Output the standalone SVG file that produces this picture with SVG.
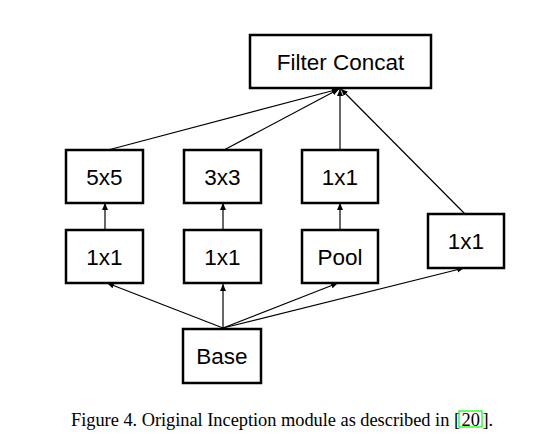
<svg xmlns="http://www.w3.org/2000/svg" width="535" height="447" viewBox="0 0 535 447">
<defs>
<marker id="ah" markerWidth="8" markerHeight="8" refX="7" refY="4" orient="auto" markerUnits="userSpaceOnUse">
<path d="M0,1 L7,4 L0,7 Z" fill="#000"/>
</marker>
<style>
.box{fill:#fff;stroke:#000;stroke-width:2.5}
.lbl{font-family:"Liberation Sans",Arial,sans-serif;font-size:22.5px;text-anchor:middle;fill:#000}
.con{stroke:#000;stroke-width:1.2;fill:none;marker-end:url(#ah)}
.cap{font-family:"Liberation Serif","Times New Roman",serif;font-size:18.4px;fill:#000}
</style>
</defs>
<rect width="535" height="447" fill="#fff"/>
<g id="connectors">
<line class="con" x1="108" y1="150" x2="339" y2="89"/>
<line class="con" x1="224" y1="150" x2="339" y2="89"/>
<line class="con" x1="340" y1="150" x2="340" y2="89"/>
<line class="con" x1="465" y1="214" x2="341" y2="89"/>
<line class="con" x1="105" y1="230" x2="105" y2="203"/>
<line class="con" x1="223" y1="230" x2="223" y2="203"/>
<line class="con" x1="340" y1="230" x2="340" y2="203"/>
<line class="con" x1="223" y1="328" x2="107" y2="283"/>
<line class="con" x1="223" y1="328" x2="223" y2="284"/>
<line class="con" x1="223" y1="328" x2="338" y2="283"/>
<line class="con" x1="223" y1="328" x2="464" y2="268"/>
</g>
<g id="filter-concat"><rect class="box" x="250" y="35" width="181" height="53"/><text class="lbl" x="340.5" y="69.5">Filter Concat</text></g>
<g id="conv5x5"><rect class="box" x="66" y="150" width="77" height="53"/><text class="lbl" x="104.5" y="184.5">5x5</text></g>
<g id="conv3x3"><rect class="box" x="184" y="150" width="77" height="53"/><text class="lbl" x="222.5" y="184.5">3x3</text></g>
<g id="conv1x1-pool"><rect class="box" x="302" y="150" width="76" height="53"/><text class="lbl" x="340" y="184.5">1x1</text></g>
<g id="reduce-5x5"><rect class="box" x="66" y="230" width="77" height="53"/><text class="lbl" x="104.5" y="264.5">1x1</text></g>
<g id="reduce-3x3"><rect class="box" x="184" y="230" width="77" height="53"/><text class="lbl" x="222.5" y="264.5">1x1</text></g>
<g id="pool"><rect class="box" x="302" y="230" width="76" height="53"/><text class="lbl" x="340" y="264.5">Pool</text></g>
<g id="conv1x1"><rect class="box" x="428" y="214" width="76" height="54"/><text class="lbl" x="466" y="248.5">1x1</text></g>
<g id="base"><rect class="box" x="183" y="329" width="78" height="54"/><text class="lbl" x="222" y="363.5">Base</text></g>
<g id="caption">
<text class="cap" x="71" y="426" textLength="389" lengthAdjust="spacing">Figure 4. Original Inception module as described in [</text>
<text class="cap" x="461.5" y="426">20</text>
<text class="cap" x="482.5" y="426">].</text>
<rect x="459" y="411" width="23" height="16" fill="none" stroke="#00ff00" stroke-width="1.2"/>
</g>
</svg>
